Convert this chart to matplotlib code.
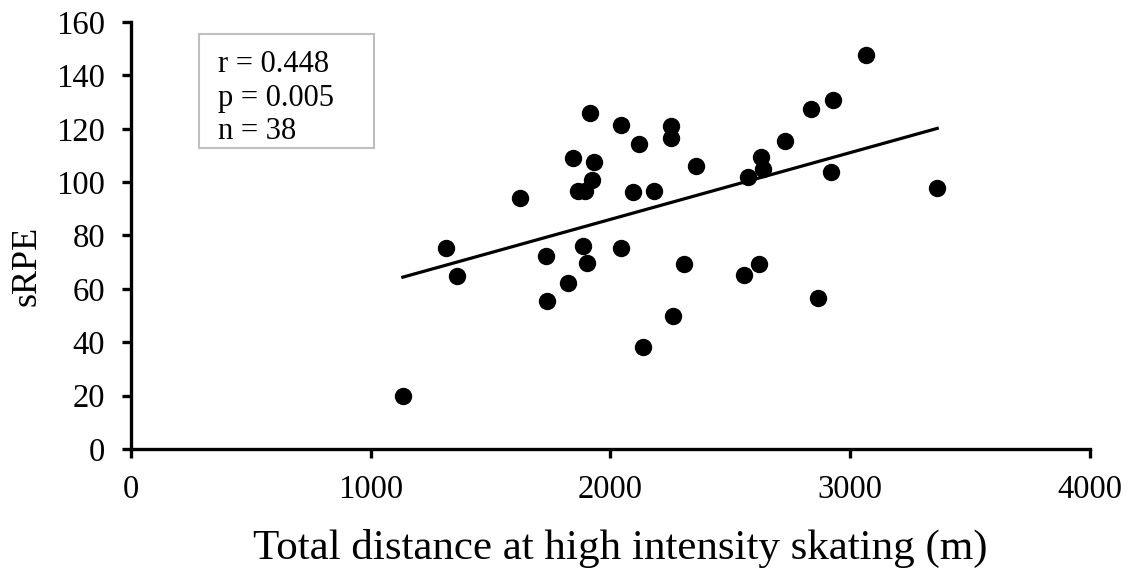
import matplotlib
matplotlib.use("Agg")
import matplotlib.pyplot as plt
from matplotlib.patches import Rectangle
import numpy as np

# total distance at high intensity skating (m) vs sRPE
distance = [1134, 1316, 1361, 1622, 1733, 1736, 1824, 1844, 1866, 1886,
            1893, 1904, 1914, 1921, 1932, 2043, 2043, 2092, 2120, 2134,
            2181, 2252, 2252, 2259, 2307, 2355, 2556, 2574, 2620, 2626,
            2637, 2730, 2838, 2865, 2919, 2929, 3064, 3363]
srpe = [19.7, 75.2, 64.7, 93.9, 72.4, 55.6, 62.3, 108.9, 96.7, 76.1,
        96.8, 69.8, 125.8, 100.8, 107.4, 121.4, 75.2, 96.4, 114.3, 38.2,
        96.5, 121.1, 116.4, 49.7, 69.3, 106.1, 65.1, 102.0, 69.3, 109.3,
        105.0, 115.4, 127.3, 56.5, 103.9, 130.8, 147.7, 97.9]
stats_lines = ["r = 0.448", "p = 0.005", "n = 38"]
x_ticks = [0, 1000, 2000, 3000, 4000]
y_ticks = [0, 20, 40, 60, 80, 100, 120, 140, 160]

plt.rcParams['font.family'] = ['Liberation Serif', 'DejaVu Serif']

fig = plt.figure(figsize=(11.31, 5.76), dpi=100)
ax = fig.add_axes([0.1158, 0.2205, 0.8479, 0.7413])

x = np.array(distance)
y = np.array(srpe)
ax.plot(x, y, "o", color="black", markersize=11.5, zorder=3)

slope, intercept = np.polyfit(x, y, 1)
xs = np.array([x.min(), x.max()])
ax.plot(xs, slope * xs + intercept, "-", color="black", linewidth=2.3)

ax.set_xlim(0, 4000)
ax.set_ylim(0, 160)
ax.set_xticks(x_ticks)
ax.set_yticks(y_ticks)
for side in ["top", "right"]:
    ax.spines[side].set_visible(False)
for side in ["left", "bottom"]:
    ax.spines[side].set_linewidth(2.4)
ax.tick_params(direction="out", length=6.5, width=2.4, labelsize=23.5)
ax.tick_params(axis="x", pad=12)
ax.tick_params(axis="y", pad=12)

ax.set_xlabel("Total distance at high intensity skating (m)", fontsize=31)
ax.xaxis.label.set_va("center")
ax.xaxis.set_label_coords(0.51, -0.234)
ax.set_ylabel("sRPE", fontsize=26)
ax.yaxis.set_label_coords(-0.091, 0.43)

# stats box (fixed size, text not fitted)
ax.add_patch(Rectangle((0.0709, 0.7049), 0.1825, 0.267, transform=ax.transAxes,
                       facecolor="white", edgecolor="#bfbfbf", linewidth=1.5,
                       zorder=4, clip_on=False))
ax.text(0.0907, 0.822, "\n".join(stats_lines), transform=ax.transAxes,
        fontsize=22, va="center", ha="left", linespacing=1.2, zorder=5)

fig.savefig("out.png", dpi=100)
